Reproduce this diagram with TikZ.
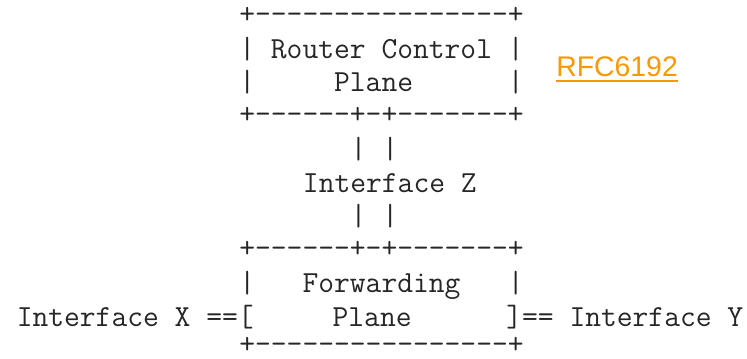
\documentclass[tikz,border=0pt]{standalone}
\usepackage{fontspec}
\usepackage{xcolor}
\newfontfamily\linkfont{Liberation Sans}
\definecolor{linkorange}{RGB}{250,152,0}
\tikzset{
  ascii/.style={anchor=base west, inner sep=0pt, text=black!85,
    font=\ttfamily\fontsize{23pt}{23pt}\selectfont},
  link/.style={anchor=base west, inner sep=0pt, text=linkorange,
    font=\linkfont\fontsize{21.3pt}{21.3pt}\selectfont}
}

\begin{document}
\begin{tikzpicture}[x=0.75pt, y=-0.75pt]
            \useasboundingbox (0,0) rectangle (747,358);
            % router control plane box
            \node[ascii] (ctltop) at (16.5+15.9*14,23) {+----------------+};
            \node[ascii] (ctlname) at (16.5+15.9*14,58) {|~Router~Control~|};
            \node[ascii] (ctlplane) at (16.5+15.9*14,91.5) {|~~~~~Plane~~~~~~|};
            \node[ascii] (ctlbot) at (16.5+15.9*14,123.5) {+------+-+-------+};
            % interface Z
            \node[ascii] (zup) at (16.5+15.9*21,158.5) {|~|};
            \node[ascii] (ifz) at (16.5+15.9*18,192) {Interface~Z};
            \node[ascii] (zdown) at (16.5+15.9*21,225.5) {|~|};
            % forwarding plane box
            \node[ascii] (fwdtop) at (16.5+15.9*14,257.5) {+------+-+-------+};
            \node[ascii] (fwdname) at (16.5+15.9*14,292.5) {|~~~Forwarding~~~|};
            \node[ascii] (fwdrow) at (16.5,326) {Interface~X~==[~~~~~Plane~~~~~~]==~Interface~Y};
            \node[ascii] (fwdbot) at (16.5+15.9*14,353) {+----------------+};
            % link
            \node[link] (rfc) at (556,76) {RFC6192};
            \draw[linkorange, line width=1.5pt] ([yshift=-4pt]rfc.base west) -- ([yshift=-4pt]rfc.base east);
        \end{tikzpicture}
\end{document}
